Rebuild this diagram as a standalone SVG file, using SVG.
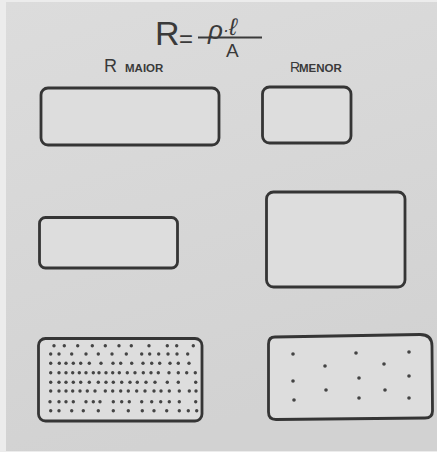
<svg xmlns="http://www.w3.org/2000/svg" width="437" height="452" viewBox="0 0 437 452">
<defs>
<linearGradient id="paper" x1="0" y1="0" x2="0.3" y2="1">
<stop offset="0" stop-color="#dcdcdc"/>
<stop offset="1" stop-color="#d2d2d2"/>
</linearGradient>
</defs>
<style>
.box{fill:#dddddd;stroke:#353535;stroke-width:2.8;stroke-linejoin:round}
.dots circle{fill:#444444}
.hand{font-family:"Liberation Sans","DejaVu Sans",sans-serif;fill:#3a3a3a}
.small{font-size:11.5px;font-weight:bold}
</style>
<rect x="0" y="0" width="437" height="452" fill="#ececec"/>
<rect x="6" y="2" width="431" height="449" fill="url(#paper)"/>

<g id="formula" class="hand">
<text x="155" y="45" font-size="34">R</text>
<text x="179" y="47" font-size="24">=</text>
<line x1="198" y1="37.5" x2="262" y2="37.5" stroke="#3a3a3a" stroke-width="1.8"/>
<text x="208" y="39" font-size="26" font-style="italic">ρ<tspan font-size="18" dy="-3">·</tspan><tspan font-size="24" dy="-1">ℓ</tspan></text>
<text x="226" y="57" font-size="19">A</text>
</g>

<g id="label-maior" class="hand">
<text x="104" y="72" font-size="18">R<tspan x="125" class="small">MAIOR</tspan></text>
</g>
<g id="label-menor" class="hand">
<text x="290" y="72" font-size="14">R<tspan x="299" class="small" font-size="10.5">MENOR</tspan></text>
</g>

<g id="box-top-left"><rect class="box" x="41" y="88" width="178" height="57" rx="7"/></g>
<g id="box-top-right"><rect class="box" x="262.5" y="87" width="88.5" height="56" rx="7"/></g>
<g id="box-mid-left"><rect class="box" x="39.5" y="217.5" width="138" height="50.5" rx="6"/></g>
<g id="box-mid-right"><rect class="box" x="266.5" y="192" width="138.5" height="95" rx="7"/></g>

<g id="box-bottom-left">
<rect class="box" x="38.5" y="338.5" width="163.5" height="82.5" rx="7"/>
<g class="dots">
<g transform="translate(0,345.7)"><circle cx="54" cy="0" r="1.7"/><circle cx="64.3" cy="0" r="1.7"/><circle cx="77.7" cy="0" r="1.7"/><circle cx="92.3" cy="0" r="1.7"/><circle cx="105.3" cy="0" r="1.7"/><circle cx="119" cy="0" r="1.7"/><circle cx="131.3" cy="0" r="1.7"/><circle cx="149" cy="0" r="1.7"/><circle cx="167.3" cy="0" r="1.7"/><circle cx="176.7" cy="0" r="1.7"/><circle cx="193.3" cy="0" r="1.7"/></g>
<g transform="translate(0,354)"><circle cx="50.7" cy="0" r="1.7"/><circle cx="59" cy="0" r="1.7"/><circle cx="71.7" cy="0" r="1.7"/><circle cx="86" cy="0" r="1.7"/><circle cx="98.3" cy="0" r="1.7"/><circle cx="112" cy="0" r="1.7"/><circle cx="126.3" cy="0" r="1.7"/><circle cx="141.7" cy="0" r="1.7"/><circle cx="149.7" cy="0" r="1.7"/><circle cx="158.7" cy="0" r="1.7"/><circle cx="168" cy="0" r="1.7"/><circle cx="177" cy="0" r="1.7"/><circle cx="187.7" cy="0" r="1.7"/></g>
<g transform="translate(0,363.3)"><circle cx="50.7" cy="0" r="1.7"/><circle cx="59.3" cy="0" r="1.7"/><circle cx="66" cy="0" r="1.7"/><circle cx="73.3" cy="0" r="1.7"/><circle cx="80.7" cy="0" r="1.7"/><circle cx="89.3" cy="0" r="1.7"/><circle cx="101" cy="0" r="1.7"/><circle cx="113" cy="0" r="1.7"/><circle cx="120.7" cy="0" r="1.7"/><circle cx="131.7" cy="0" r="1.7"/><circle cx="143" cy="0" r="1.7"/><circle cx="151.7" cy="0" r="1.7"/><circle cx="159.7" cy="0" r="1.7"/><circle cx="170" cy="0" r="1.7"/><circle cx="178.3" cy="0" r="1.7"/><circle cx="189" cy="0" r="1.7"/></g>
<g transform="translate(0,372.7)"><circle cx="50.7" cy="0" r="1.7"/><circle cx="59" cy="0" r="1.7"/><circle cx="66" cy="0" r="1.7"/><circle cx="72.7" cy="0" r="1.7"/><circle cx="79.3" cy="0" r="1.7"/><circle cx="86" cy="0" r="1.7"/><circle cx="93.3" cy="0" r="1.7"/><circle cx="99" cy="0" r="1.7"/><circle cx="106" cy="0" r="1.7"/><circle cx="112.7" cy="0" r="1.7"/><circle cx="119.3" cy="0" r="1.7"/><circle cx="127.3" cy="0" r="1.7"/><circle cx="135" cy="0" r="1.7"/><circle cx="143.3" cy="0" r="1.7"/><circle cx="151" cy="0" r="1.7"/><circle cx="158.3" cy="0" r="1.7"/><circle cx="169" cy="0" r="1.7"/><circle cx="178.3" cy="0" r="1.7"/><circle cx="186.7" cy="0" r="1.7"/><circle cx="195.3" cy="0" r="1.7"/></g>
<g transform="translate(0,382.3)"><circle cx="50.7" cy="0" r="1.7"/><circle cx="59" cy="0" r="1.7"/><circle cx="66" cy="0" r="1.7"/><circle cx="73.3" cy="0" r="1.7"/><circle cx="80.7" cy="0" r="1.7"/><circle cx="89.3" cy="0" r="1.7"/><circle cx="98.3" cy="0" r="1.7"/><circle cx="106" cy="0" r="1.7"/><circle cx="113.3" cy="0" r="1.7"/><circle cx="121.7" cy="0" r="1.7"/><circle cx="130" cy="0" r="1.7"/><circle cx="137.3" cy="0" r="1.7"/><circle cx="146" cy="0" r="1.7"/><circle cx="155" cy="0" r="1.7"/><circle cx="167.3" cy="0" r="1.7"/><circle cx="178.3" cy="0" r="1.7"/><circle cx="195.7" cy="0" r="1.7"/></g>
<g transform="translate(0,391)"><circle cx="50.7" cy="0" r="1.7"/><circle cx="59" cy="0" r="1.7"/><circle cx="66" cy="0" r="1.7"/><circle cx="72.7" cy="0" r="1.7"/><circle cx="80" cy="0" r="1.7"/><circle cx="87.3" cy="0" r="1.7"/><circle cx="95" cy="0" r="1.7"/><circle cx="105.3" cy="0" r="1.7"/><circle cx="112.7" cy="0" r="1.7"/><circle cx="120.7" cy="0" r="1.7"/><circle cx="128.3" cy="0" r="1.7"/><circle cx="136.7" cy="0" r="1.7"/><circle cx="145" cy="0" r="1.7"/><circle cx="154" cy="0" r="1.7"/><circle cx="161" cy="0" r="1.7"/><circle cx="169.3" cy="0" r="1.7"/><circle cx="179.3" cy="0" r="1.7"/><circle cx="189.3" cy="0" r="1.7"/><circle cx="196" cy="0" r="1.7"/></g>
<g transform="translate(0,401.7)"><circle cx="50" cy="0" r="1.7"/><circle cx="59" cy="0" r="1.7"/><circle cx="66" cy="0" r="1.7"/><circle cx="73.3" cy="0" r="1.7"/><circle cx="86" cy="0" r="1.7"/><circle cx="93.3" cy="0" r="1.7"/><circle cx="100" cy="0" r="1.7"/><circle cx="113.3" cy="0" r="1.7"/><circle cx="121.7" cy="0" r="1.7"/><circle cx="129.3" cy="0" r="1.7"/><circle cx="141.7" cy="0" r="1.7"/><circle cx="151.7" cy="0" r="1.7"/><circle cx="160.7" cy="0" r="1.7"/><circle cx="169.3" cy="0" r="1.7"/><circle cx="179.3" cy="0" r="1.7"/><circle cx="195.7" cy="0" r="1.7"/></g>
<g transform="translate(0,410.7)"><circle cx="50.7" cy="0" r="1.7"/><circle cx="59" cy="0" r="1.7"/><circle cx="71.7" cy="0" r="1.7"/><circle cx="83.3" cy="0" r="1.7"/><circle cx="98.3" cy="0" r="1.7"/><circle cx="113.3" cy="0" r="1.7"/><circle cx="128.3" cy="0" r="1.7"/><circle cx="142.3" cy="0" r="1.7"/><circle cx="154" cy="0" r="1.7"/><circle cx="166.7" cy="0" r="1.7"/><circle cx="179.3" cy="0" r="1.7"/><circle cx="188.3" cy="0" r="1.7"/><circle cx="196.7" cy="0" r="1.7"/></g>
</g>
</g>

<g id="box-bottom-right">
<path class="box" d="M275,337 L420,334.5 Q432,334.5 432,346 L432.5,411 Q432.5,418 425,418 L276,419.5 Q268.5,419.5 268.5,412 L268.5,344 Q268.5,337 275,337 Z"/>
<g class="dots">
<circle cx="293" cy="354" r="1.8"/><circle cx="356" cy="353" r="1.8"/><circle cx="409" cy="352" r="1.8"/>
<circle cx="325" cy="366" r="1.8"/><circle cx="384" cy="364" r="1.8"/>
<circle cx="293" cy="381" r="1.8"/><circle cx="359" cy="378" r="1.8"/><circle cx="409" cy="376" r="1.8"/>
<circle cx="326" cy="390" r="1.8"/><circle cx="385" cy="390" r="1.8"/>
<circle cx="294" cy="400" r="1.8"/><circle cx="359" cy="398" r="1.8"/><circle cx="409" cy="398" r="1.8"/>
</g>
</g>
</svg>
